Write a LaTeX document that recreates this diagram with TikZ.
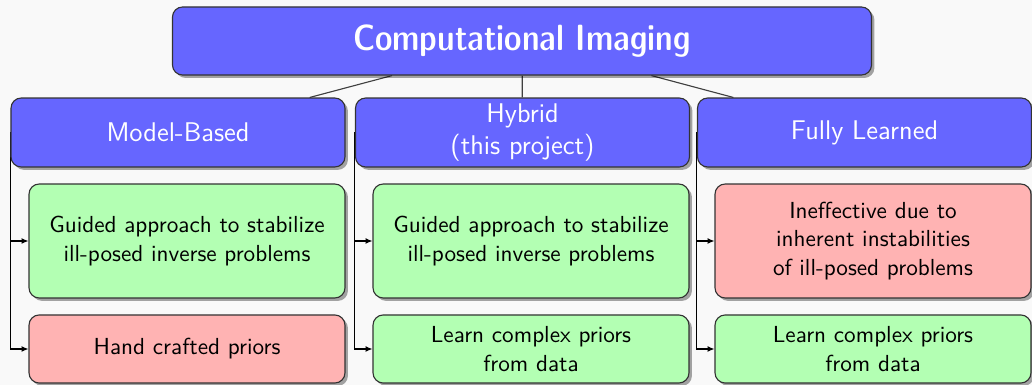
\documentclass[tikz,border=0pt]{standalone}
\usepackage{fontspec}
\setsansfont{Latin Modern Sans}
\newfontfamily\titlefont{lmsansdemicond10-regular.otf}
\renewcommand{\familydefault}{\sfdefault}
\usetikzlibrary{shadows,arrows.meta,backgrounds}
\definecolor{headblue}{RGB}{102,102,255}
\definecolor{goodgreen}{RGB}{179,255,179}
\definecolor{badred}{RGB}{255,179,179}
\definecolor{bgcol}{RGB}{249,249,249}
\begin{document}
\begin{tikzpicture}[x=0.444pt,y=-0.444pt,
  box/.style={draw=black!80, rounded corners=4.5pt, line width=0.5pt, align=center,
    inner sep=0pt, font=\sffamily\fontsize{10.3}{12.6}\selectfont,
    drop shadow={shadow xshift=1.3pt,shadow yshift=-1.3pt,opacity=0.35,fill=black}},
  titlebox/.style={box, fill=headblue, text=white, font=\titlefont\fontsize{16.2}{19}\selectfont,
    minimum width=310.4pt, minimum height=30.2pt},
  headbox/.style={box, fill=headblue, text=white, font=\sffamily\large,
    minimum width=148.3pt, minimum height=30.6pt},
  goodbox/.style={box, fill=goodgreen, minimum width=140.3pt},
  badbox/.style={box, fill=badred, minimum width=140.3pt},
  tall/.style={minimum height=50.6pt},
  short/.style={minimum height=30.2pt},
  treeline/.style={draw=black!75, line width=0.5pt},
  sideline/.style={draw=black, line width=0.5pt, -{Latex[length=3pt,width=2.6pt]}}
]
\useasboundingbox (0,0) rectangle (1032,385);
% nodes
\node[titlebox] (ci) at (522,41) {Computational Imaging};
\node[headbox] (mb) at (178,132.5) {Model-Based};
\node[headbox] (hy) at (522.5,132.5) {Hybrid\\(this project)};
\node[headbox] (fl) at (864.5,132.5) {Fully Learned};
\node[goodbox,tall] (mb1) at (187,241) {Guided approach to stabilize\\ill-posed inverse problems};
\node[badbox,short] (mb2) at (187,349) {Hand crafted priors};
\node[goodbox,tall] (hy1) at (531,241) {Guided approach to stabilize\\ill-posed inverse problems};
\node[goodbox,short] (hy2) at (531,349) {Learn complex priors\\from data};
\node[badbox,tall] (fl1) at (873,241) {Ineffective due to\\inherent instabilities\\of ill-posed problems};
\node[goodbox,short] (fl2) at (873,349) {Learn complex priors\\from data};
\begin{scope}[on background layer]
  \fill[bgcol] (0,0) rectangle (1032,385);
  \draw[treeline] (ci) -- (mb);
  \draw[treeline] (ci) -- (hy);
  \draw[treeline] (ci) -- (fl);
  \draw[sideline] (mb.west) |- (mb1.west);
  \draw[sideline] (mb.west) |- (mb2.west);
  \draw[sideline] (hy.west) |- (hy1.west);
  \draw[sideline] (hy.west) |- (hy2.west);
  \draw[sideline] (fl.west) |- (fl1.west);
  \draw[sideline] (fl.west) |- (fl2.west);
\end{scope}
\end{tikzpicture}
\end{document}
